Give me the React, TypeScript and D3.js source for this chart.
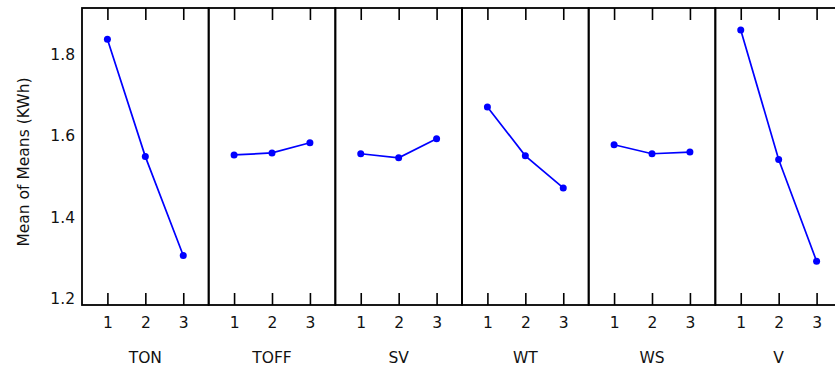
import React, { useEffect, useRef } from 'react';
import * as d3 from 'd3';

// factors and their level means (KWh)
const factors = ['TON', 'TOFF', 'SV', 'WT', 'WS', 'V'];
const levels = [1, 2, 3];
const tonMeans = [1.837, 1.549, 1.306];
const toffMeans = [1.553, 1.558, 1.583];
const svMeans = [1.556, 1.546, 1.593];
const wtMeans = [1.671, 1.551, 1.472];
const wsMeans = [1.578, 1.556, 1.560];
const vMeans = [1.860, 1.542, 1.292];
const yTicks = [1.2, 1.4, 1.6, 1.8];

const allMeans = [tonMeans, toffMeans, svMeans, wtMeans, wsMeans, vMeans];

const width = 835;
const height = 372;
const FONT = '"DejaVu Sans", Verdana, sans-serif';
const FONT_SIZE = 15.5;

const App: React.FC = () => {
    const svgRef = useRef<SVGSVGElement | null>(null);

    useEffect(() => {
        const margin = { top: 8, bottom: 67, left: 82 };
        const svg = d3.select(svgRef.current);
        svg.selectAll('*').remove();

        const plotBottom = height - margin.bottom;

        // one band per factor, the last one runs past the right edge
        const panelX = d3.scaleBand<string>()
            .domain(factors)
            .range([margin.left, 842])
            .paddingInner(0);

        const levelX = d3.scaleLinear()
            .domain([0.33, 3.67])
            .range([0, panelX.bandwidth()]);

        const y = d3.scaleLinear()
            .domain([1.1845, 1.914])
            .range([plotBottom, margin.top]);

        // y axis labels (no tick marks)
        const yAxis = svg.append('g')
            .attr('transform', `translate(${margin.left},0)`)
            .call(d3.axisLeft(y).tickValues(yTicks).tickFormat(d3.format('.1f')).tickSize(0).tickPadding(7));
        yAxis.select('.domain').remove();
        yAxis.selectAll('text')
            .attr('font-family', FONT)
            .attr('font-size', FONT_SIZE)
            .attr('fill', '#111');

        svg.append('text')
            .attr('transform', `translate(23.5, 162) rotate(-90)`)
            .attr('text-anchor', 'middle')
            .attr('dy', '0.35em')
            .attr('font-family', FONT)
            .attr('font-size', FONT_SIZE)
            .attr('fill', '#111')
            .text('Mean of Means (KWh)');

        const line = d3.line<number>()
            .x((_, i) => levelX(levels[i]))
            .y(d => y(d));

        factors.forEach((f, k) => {
            const x0 = panelX(f)!;
            const g = svg.append('g').attr('transform', `translate(${x0},0)`);

            // panel frame
            g.append('rect')
                .attr('x', 0)
                .attr('y', margin.top)
                .attr('width', panelX.bandwidth())
                .attr('height', plotBottom - margin.top)
                .attr('fill', 'none')
                .attr('stroke', '#000')
                .attr('stroke-width', 1.8);

            const bottomAxis = g.append('g')
                .attr('transform', `translate(0,${plotBottom})`)
                .call(d3.axisBottom(levelX).tickValues(levels).tickFormat(d3.format('d'))
                    .tickSizeInner(-12).tickSizeOuter(0).tickPadding(12));
            bottomAxis.select('.domain').remove();
            bottomAxis.selectAll('line').attr('stroke-width', 1.6);
            bottomAxis.selectAll('text')
                .attr('font-family', FONT)
                .attr('font-size', FONT_SIZE)
                .attr('fill', '#111');

            const topAxis = g.append('g')
                .attr('transform', `translate(0,${margin.top})`)
                .call(d3.axisTop(levelX).tickValues(levels).tickFormat(() => '')
                    .tickSizeInner(-12).tickSizeOuter(0));
            topAxis.select('.domain').remove();
            topAxis.selectAll('line').attr('stroke-width', 1.6);

            g.append('text')
                .attr('x', panelX.bandwidth() / 2)
                .attr('y', 363)
                .attr('text-anchor', 'middle')
                .attr('font-family', FONT)
                .attr('font-size', FONT_SIZE)
                .attr('fill', '#111')
                .text(f);

            const means = allMeans[k];
            g.append('path')
                .datum(means)
                .attr('d', line)
                .attr('fill', 'none')
                .attr('stroke', '#0000ff')
                .attr('stroke-width', 1.7);

            g.selectAll('circle')
                .data(means)
                .enter()
                .append('circle')
                .attr('cx', (_, i) => levelX(levels[i]))
                .attr('cy', d => y(d))
                .attr('r', 3.5)
                .attr('fill', '#0000ff');
        });
    }, []);

    return (
        <svg
            ref={svgRef}
            width={width}
            height={height}
            style={{ position: 'absolute', left: 0, top: 0, background: '#fff' }}
        />
    );
};

export default App;
